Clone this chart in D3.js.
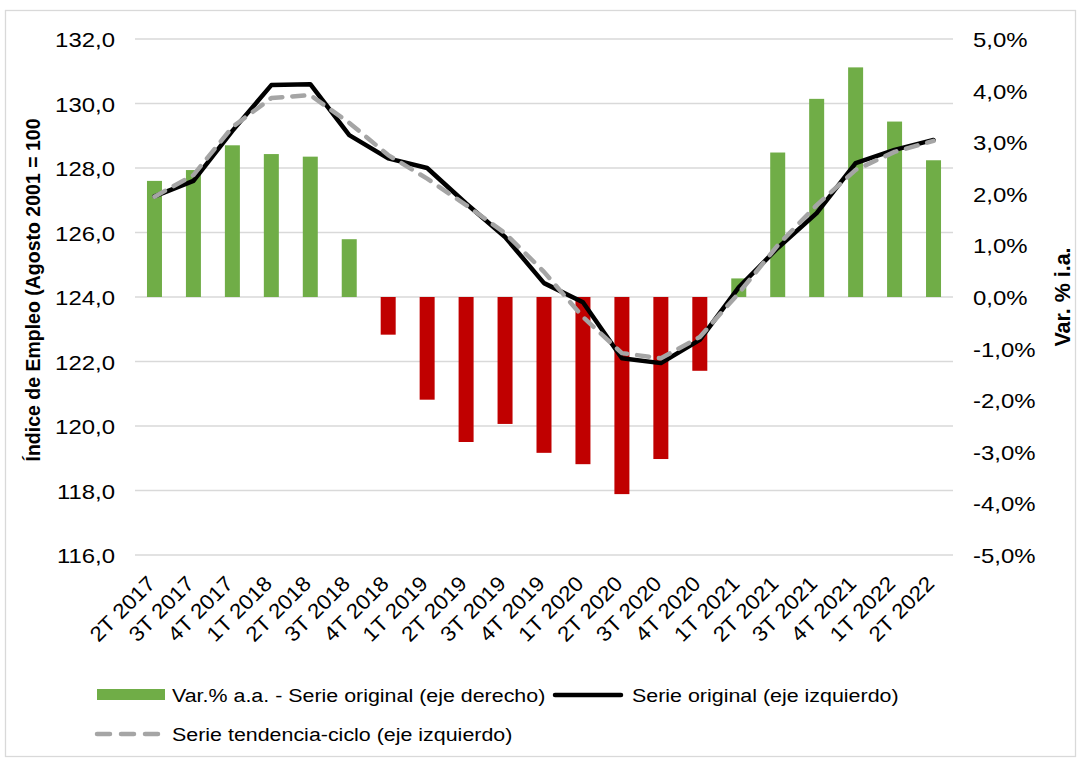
<!DOCTYPE html>
<html><head><meta charset="utf-8">
<script src="https://cdn.jsdelivr.net/npm/d3@7/dist/d3.min.js"></script>
<style>
body{margin:0;background:#fff;}
svg{display:block;font-family:"Liberation Sans",Arial,sans-serif;}
</style></head>
<body><svg id="c" width="1077" height="758"></svg>
<script>
const categories = ["2T 2017","3T 2017","4T 2017","1T 2018","2T 2018","3T 2018","4T 2018","1T 2019","2T 2019","3T 2019","4T 2019","1T 2020","2T 2020","3T 2020","4T 2020","1T 2021","2T 2021","3T 2021","4T 2021","1T 2022","2T 2022"];
const varPct = [2.25,2.46,2.94,2.77,2.72,1.12,-0.73,-1.99,-2.81,-2.46,-3.02,-3.24,-3.82,-3.14,-1.43,0.36,2.80,3.84,4.45,3.40,2.65];
const serieOriginal = [127.12,127.6,129.15,130.57,130.6,129.02,128.3,128.0,126.9,125.86,124.43,123.84,122.1,121.95,122.67,124.3,125.52,126.6,128.15,128.56,128.87];
const serieTendencia = [127.11,127.78,129.27,130.17,130.26,129.4,128.4,127.67,126.85,125.98,124.78,123.38,122.26,122.1,122.76,124.12,125.6,126.85,127.94,128.5,128.84];
const leftTicks = [116,118,120,122,124,126,128,130,132];
const rightTicks = [-5,-4,-3,-2,-1,0,1,2,3,4,5];
const seriesNames = ["Var.% a.a. - Serie original (eje derecho)","Serie original (eje izquierdo)","Serie tendencia-ciclo (eje izquierdo)"];
const leftTitle = "Índice de Empleo (Agosto 2001 = 100";
const rightTitle = "Var. % i.a.";

const svg = d3.select("#c");
const STRETCH = 1.14;
const X0 = 135, X1 = 953, Y0 = 555, Y1 = 39;
const x = d3.scaleBand().domain(categories).range([X0,X1]).paddingInner(0.615).paddingOuter(0.3075);
const yL = d3.scaleLinear().domain([116,132]).range([Y0,Y1]);
const yR = d3.scaleLinear().domain([-5,5]).range([Y0,Y1]);
const cx = c => x(c) + x.bandwidth()/2;
const comma = v => (v<0?"-":"") + Math.abs(v).toFixed(1).replace(".",",");

// border
svg.append("rect").attr("x",5.5).attr("y",10.5).attr("width",1070).attr("height",746)
  .attr("fill","none").attr("stroke","#d9d9d9").attr("stroke-width",1.3);

// gridlines
svg.append("g").selectAll("line").data(leftTicks).join("line")
  .attr("x1",X0).attr("x2",X1).attr("y1",d=>yL(d)).attr("y2",d=>yL(d))
  .attr("stroke","#d9d9d9").attr("stroke-width",1.3);

// left axis
const gL = svg.append("g").attr("transform",`translate(${X0},0)`)
  .call(d3.axisLeft(yL).tickValues(leftTicks).tickFormat(comma).tickSize(0).tickPadding(20));
gL.select(".domain").remove();
gL.selectAll("text").attr("font-size",21).attr("fill","#000").attr("font-family","Liberation Sans, Arial").attr("dy","0.36em");

// right axis
const gR = svg.append("g").attr("transform",`translate(${X1},0)`)
  .call(d3.axisRight(yR).tickValues(rightTicks).tickFormat(v=>comma(v)+"%").tickSize(0).tickPadding(20));
gR.select(".domain").remove();
gR.selectAll("text").attr("font-size",21).attr("fill","#000").attr("font-family","Liberation Sans, Arial").attr("dy","0.36em");

// bars
svg.append("g").selectAll("rect").data(categories).join("rect")
  .attr("x",d=>x(d)).attr("width",x.bandwidth())
  .attr("y",(d,i)=>Math.min(yR(varPct[i]),yR(0)))
  .attr("height",(d,i)=>Math.abs(yR(varPct[i])-yR(0)))
  .attr("fill",(d,i)=>varPct[i]>=0?"#70ad47":"#c00000");

// lines
const line = d3.line().x(d=>cx(d.c)).y(d=>yL(d.v));
svg.append("path").datum(categories.map((c,i)=>({c,v:serieOriginal[i]})))
  .attr("d",line).attr("fill","none").attr("stroke","#000").attr("stroke-width",4.5)
  .attr("stroke-linejoin","round").attr("stroke-linecap","round");
svg.append("path").datum(categories.map((c,i)=>({c,v:serieTendencia[i]})))
  .attr("d",line).attr("fill","none").attr("stroke","#a5a5a5").attr("stroke-width",4.5)
  .attr("stroke-dasharray","12 10").attr("stroke-linejoin","round").attr("stroke-linecap","round");

// x labels
svg.append("g").selectAll("text").data(categories).join("text")
  .attr("transform",d=>`translate(${cx(d)+2},${585}) rotate(-45)`)
  .attr("text-anchor","end").attr("font-size",21).attr("fill","#000")
  .attr("class","xl").text(d=>d);

// axis titles
svg.append("text").attr("transform",`translate(40,290) rotate(-90)`)
  .attr("text-anchor","middle").attr("font-size",19.5).attr("font-weight","bold").attr("fill","#000")
  .text(leftTitle);
svg.append("text").attr("transform",`translate(1070,297) rotate(-90)`)
  .attr("text-anchor","middle").attr("font-size",21.5).attr("font-weight","bold").attr("fill","#000")
  .text(rightTitle);

// legend
const lg = svg.append("g");
lg.append("rect").attr("x",97).attr("y",689).attr("width",68).attr("height",11).attr("fill","#70ad47");
lg.append("text").attr("x",172).attr("y",695).attr("dy","0.36em").attr("font-size",18.8).attr("class","lt").text(seriesNames[0]);
lg.append("line").attr("x1",555).attr("x2",621).attr("y1",695).attr("y2",695)
  .attr("stroke","#000").attr("stroke-width",4.5).attr("stroke-linecap","round");
lg.append("text").attr("x",632).attr("y",695).attr("dy","0.36em").attr("font-size",18.8).attr("class","lt").text(seriesNames[1]);
lg.append("line").attr("x1",97).attr("x2",158).attr("y1",734).attr("y2",734)
  .attr("stroke","#a5a5a5").attr("stroke-width",4.5).attr("stroke-linecap","round").attr("stroke-dasharray","13 11");
lg.append("text").attr("x",172).attr("y",734).attr("dy","0.36em").attr("font-size",18.8).attr("class","lt").text(seriesNames[2]);

// horizontal stretch of horizontal texts
svg.selectAll(".tick text, .lt").each(function(){
  const L = this.getComputedTextLength();
  d3.select(this).attr("textLength",L*STRETCH).attr("lengthAdjust","spacingAndGlyphs");
});
svg.selectAll(".xl").each(function(){
  const L = this.getComputedTextLength();
  d3.select(this).attr("textLength",L*1.07).attr("lengthAdjust","spacingAndGlyphs");
});
</script></body></html>
